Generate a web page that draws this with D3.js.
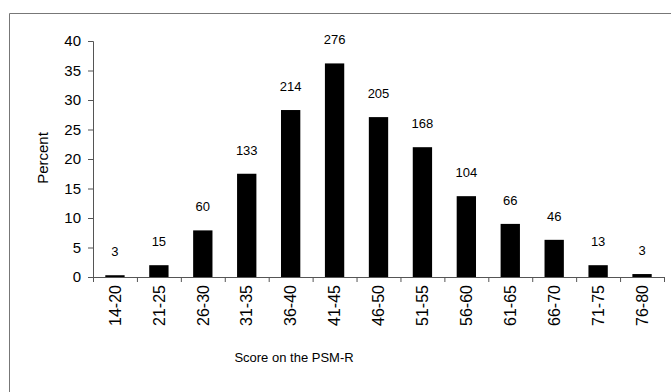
<!DOCTYPE html>
<html>
  <head>
    <meta charset="utf-8">
    <title>Score on the PSM-R</title>
    <script src="https://cdn.jsdelivr.net/npm/d3@7"></script>
    <style>
      body { margin: 0; background: #fff; }
      svg { display: block; font-family: Arial, "Liberation Sans", sans-serif; }
      .axis path, .axis line { stroke: #555; }
      .axis text { fill: #000; }
    </style>
  </head>

  <body>
    <div id="container"></div>

    <script>
      // data
      scoreBands = ["14-20", "21-25", "26-30", "31-35", "36-40", "41-45", "46-50",
                    "51-55", "56-60", "61-65", "66-70", "71-75", "76-80"];
      percents = [0.3, 2.0, 7.9, 17.5, 28.3, 36.2, 27.1, 22.0, 13.7, 9.0, 6.3, 2.0, 0.5];
      counts = [3, 15, 60, 133, 214, 276, 205, 168, 104, 66, 46, 13, 3];
      yTicks = [0, 5, 10, 15, 20, 25, 30, 35, 40];

      chartData = scoreBands.map((d, i) => ({band: d, pct: percents[i], n: counts[i]}));

      width = 671;
      height = 392;
      margin = {top: 41, right: 7, bottom: 115, left: 93};

      svg = d3.select("#container").append("svg")
        .attr("width", width)
        .attr("height", height);

      // outer frame (only top and left edges fall inside the picture)
      svg.append("path")
        .attr("d", "M9.5," + height + "V13.5H" + width)
        .attr("fill", "none")
        .attr("stroke", "#777")
        .attr("stroke-width", 1);

      xScale = d3.scaleBand()
        .domain(scoreBands)
        .range([margin.left, width - margin.right])
        .padding(0);
      xEdges = d3.scaleLinear()
        .domain([0, scoreBands.length])
        .range([margin.left, width - margin.right]);
      yScale = d3.scaleLinear()
        .domain([0, 40])
        .range([height - margin.bottom, margin.top]);

      // y axis
      svg.append("g")
        .classed("axis y", true)
        .attr("transform", "translate(" + margin.left + ",0)")
        .call(d3.axisLeft(yScale)
          .tickValues(yTicks)
          .tickSizeInner(5)
          .tickSizeOuter(5)
          .tickPadding(7)
        )
        .call(g => g.selectAll("text").style("font-size", "15px"));

      // x axis: boundary ticks
      svg.append("g")
        .classed("axis x", true)
        .attr("transform", "translate(0," + yScale(0) + ")")
        .call(d3.axisBottom(xEdges)
          .tickValues(d3.range(scoreBands.length + 1))
          .tickFormat("")
          .tickSizeInner(5)
          .tickSizeOuter(0)
        );

      // x axis: rotated category labels
      svg.append("g")
        .classed("axis xlabels", true)
        .attr("transform", "translate(0," + yScale(0) + ")")
        .call(d3.axisBottom(xScale).tickSize(0).tickPadding(0))
        .call(g => g.select(".domain").remove())
        .call(g => g.selectAll("text")
          .style("font-size", "16px")
          .attr("text-anchor", "end")
          .attr("transform", "rotate(-90)")
          .attr("x", -8)
          .attr("y", 0)
          .attr("dy", "0.36em"));

      // bars
      bw = xScale.bandwidth();
      svg.append("g")
        .selectAll("rect")
          .data(chartData)
        .enter().append("rect")
          .attr("x", d => xScale(d.band) + bw * 0.28)
          .attr("width", bw * 0.44)
          .attr("y", d => yScale(d.pct))
          .attr("height", d => yScale(0) - yScale(d.pct))
          .attr("fill", "#000");

      // count labels
      svg.append("g")
        .selectAll("text")
          .data(chartData)
        .enter().append("text")
          .attr("x", d => xScale(d.band) + bw / 2)
          .attr("y", d => yScale(d.pct) - 19)
          .attr("text-anchor", "middle")
          .style("font-size", "13px")
          .text(d => d.n);

      // axis titles
      svg.append("text")
        .attr("transform", "translate(48,158) rotate(-90)")
        .attr("text-anchor", "middle")
        .style("font-size", "15px")
        .text("Percent");

      svg.append("text")
        .attr("x", 294)
        .attr("y", 362)
        .attr("text-anchor", "middle")
        .style("font-size", "13px")
        .text("Score on the PSM-R");
    </script>
  </body>
</html>
